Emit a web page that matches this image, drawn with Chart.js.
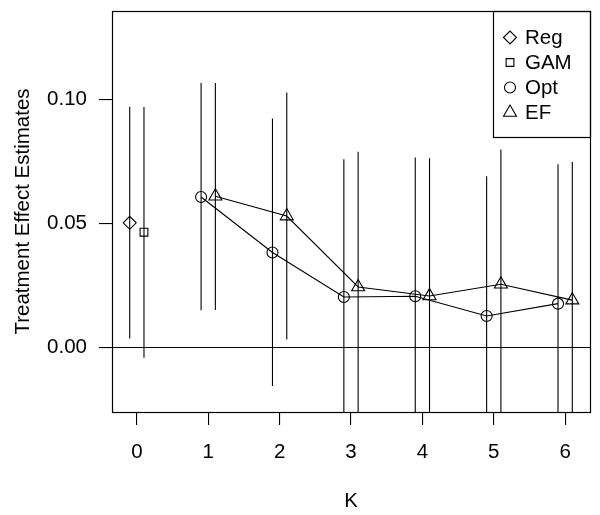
<!DOCTYPE html>
<html>
<head>
<meta charset="utf-8">
<script src="https://cdn.jsdelivr.net/npm/chart.js@4/dist/chart.umd.min.js"></script>
<style>
  html, body { margin: 0; padding: 0; background: #fff; }
  #wrap { width: 600px; height: 515px; }
</style>
</head>
<body>
<div id="wrap"><canvas id="c" width="600" height="515"></canvas></div>
<script>
// ---- data ----
const kValues = [1, 2, 3, 4, 5, 6];
const xTickValues = [0, 1, 2, 3, 4, 5, 6];
const yTickValues = [0, 0.05, 0.10];
const yTickLabels = ['0.00', '0.05', '0.10'];

const regEst = 0.0502, regLo = 0.0035, regHi = 0.0970;
const gamEst = 0.0464, gamLo = -0.0042, gamHi = 0.0969;

const optEst = [0.0606, 0.0382, 0.0203, 0.0206, 0.0126, 0.0176];
const optLo  = [0.0149, -0.0156, -0.0352, -0.0353, -0.0438, -0.0386];
const optHi  = [0.1066, 0.0923, 0.0758, 0.0765, 0.0690, 0.0738];

const efEst = [0.0609, 0.0529, 0.0243, 0.0207, 0.0254, 0.0190];
const efLo  = [0.0150, 0.0031, -0.0302, -0.0348, -0.0290, -0.0367];
const efHi  = [0.1066, 0.1027, 0.0788, 0.0762, 0.0798, 0.0747];

const legendLabels = ['Reg', 'GAM', 'Opt', 'EF'];
const shift = 0.1;

const FONT = '"Liberation Sans", Arial, Helvetica, sans-serif';
const FS = 20.5;

const ds = [
  { label: 'Reg', data: [{x: -shift, y: regEst}], lo: [regLo], hi: [regHi],
    pointStyle: 'rectRot', pointRadius: 6.5, showLine: false },
  { label: 'GAM', data: [{x: shift, y: gamEst}], lo: [gamLo], hi: [gamHi],
    pointStyle: 'rect', pointRadius: 5.5, showLine: false },
  { label: 'Opt', data: kValues.map((k, i) => ({x: k - shift, y: optEst[i]})), lo: optLo, hi: optHi,
    pointStyle: 'circle', pointRadius: 5.5, showLine: true },
  { label: 'EF', data: kValues.map((k, i) => ({x: k + shift, y: efEst[i]})), lo: efLo, hi: efHi,
    pointStyle: 'triangle', pointRadius: 7.5, showLine: true }
].map(d => Object.assign({
  borderColor: '#000', backgroundColor: 'rgba(0,0,0,0)', pointBorderColor: '#000',
  pointBackgroundColor: 'rgba(0,0,0,0)', pointBorderWidth: 1.1, borderWidth: 1.1,
  tension: 0, pointHoverRadius: 6
}, d));

const rPlot = {
  id: 'rPlot',
  beforeDatasetsDraw(chart) {
    const {ctx, chartArea: a, scales: {x, y}} = chart;
    ctx.save();
    ctx.beginPath();
    ctx.rect(a.left, a.top, a.right - a.left, a.bottom - a.top);
    ctx.clip();
    ctx.strokeStyle = '#000';
    ctx.lineWidth = 1.1;
    // zero line
    const y0 = Math.round(y.getPixelForValue(0)) + 0.5;
    ctx.beginPath(); ctx.moveTo(a.left, y0); ctx.lineTo(a.right, y0); ctx.stroke();
    // error bars
    chart.data.datasets.forEach(d => {
      d.data.forEach((p, i) => {
        const px = x.getPixelForValue(p.x);
        ctx.beginPath();
        ctx.moveTo(px, y.getPixelForValue(d.lo[i]));
        ctx.lineTo(px, y.getPixelForValue(d.hi[i]));
        ctx.stroke();
      });
    });
    ctx.restore();
  },
  afterDraw(chart) {
    const {ctx, chartArea: a} = chart;
    ctx.save();
    ctx.strokeStyle = '#000';
    ctx.lineWidth = 1.2;
    ctx.strokeRect(Math.round(a.left) + 0.5, Math.round(a.top) + 0.5,
                   Math.round(a.right - a.left), Math.round(a.bottom - a.top));
    // legend box
    const lx = 493.5, ly = Math.round(a.top) + 0.5, lw = Math.round(a.right) - 493, lh = 126;
    ctx.strokeRect(lx, ly, lw, lh);
    ctx.font = FS + 'px ' + FONT;
    ctx.textBaseline = 'middle';
    ctx.textAlign = 'left';
    chart.data.datasets.forEach((d, i) => {
      const cy = ly + 26 + i * 25;
      ctx.fillStyle = 'rgba(0,0,0,0)';
      ctx.strokeStyle = '#000';
      ctx.lineWidth = 1.1;
      Chart.helpers.drawPoint(ctx, {
        pointStyle: d.pointStyle, radius: d.pointRadius, borderWidth: 1.1
      }, 510, cy);
      ctx.fillStyle = '#000';
      ctx.fillText(legendLabels[i], 525, cy + 1);
    });
    ctx.restore();
  }
};

new Chart(document.getElementById('c'), {
  type: 'scatter',
  data: { datasets: ds },
  plugins: [rPlot],
  options: {
    responsive: false,
    animation: false,
    devicePixelRatio: 1,
    layout: { padding: { top: 11, right: 10, left: 0, bottom: 0 } },
    plugins: { legend: { display: false }, tooltip: { enabled: false } },
    elements: { point: { borderColor: '#000' } },
    scales: {
      x: {
        type: 'linear', min: -0.348, max: 6.348,
        afterFit(s) { s.height = 103; s.paddingLeft = 0; s.paddingRight = 0; },
        afterBuildTicks(s) { s.ticks = xTickValues.map(v => ({value: v})); },
        grid: { drawOnChartArea: false, tickLength: 13, color: '#000', lineWidth: 1.1 },
        border: { display: false },
        ticks: { color: '#000', padding: 15, font: { family: FONT, size: FS }, maxRotation: 0,
                 callback: v => String(v) },
        title: { display: true, text: 'K', color: '#000', font: { family: FONT, size: FS },
                 padding: { top: 0, bottom: 1 } }
      },
      y: {
        type: 'linear', min: -0.0261, max: 0.1356,
        afterFit(s) { s.width = 112; s.paddingTop = 0; s.paddingBottom = 0; },
        afterBuildTicks(s) { s.ticks = yTickValues.map(v => ({value: v})); },
        grid: { drawOnChartArea: false, tickLength: 13, color: '#000', lineWidth: 1.1 },
        border: { display: false },
        ticks: { color: '#000', padding: 12, font: { family: FONT, size: FS },
                 callback: (v) => yTickLabels[yTickValues.findIndex(t => Math.abs(t - v) < 1e-9)] },
        title: { display: true, text: 'Treatment Effect Estimates', color: '#000',
                 font: { family: FONT, size: FS }, padding: { top: 11.5, bottom: 0 } }
      }
    }
  }
});
</script>
</body>
</html>
